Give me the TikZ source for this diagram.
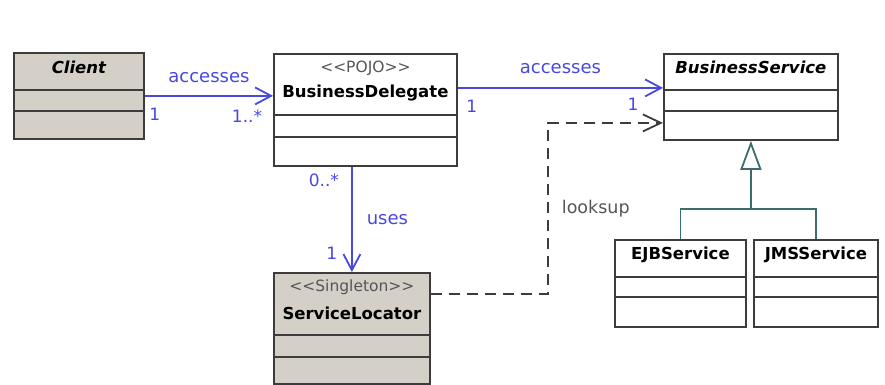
\documentclass[tikz,border=0pt]{standalone}
\usepackage{fontspec}
\usepackage{tikz}
\usetikzlibrary{arrows.meta,positioning}
\newfontfamily\umlfont{DejaVu Sans}

\definecolor{assocblue}{RGB}{72,72,224}
\definecolor{boxgrey}{RGB}{212,208,200}
\definecolor{boxline}{RGB}{60,60,60}
\definecolor{stereogrey}{RGB}{85,85,85}
\definecolor{inheritteal}{RGB}{60,108,108}

\begin{document}
\begin{tikzpicture}[x=1pt,y=-1pt,
    class/.style={draw=boxline,line width=1.8pt,anchor=north west,inner sep=0pt},
    greybox/.style={class,fill=boxgrey},
    whitebox/.style={class,fill=white},
    divider/.style={draw=boxline,line width=1.6pt},
    ctitle/.style={font=\umlfont\bfseries\fontsize{16.5}{18}\selectfont,inner sep=1pt},
    ctitleit/.style={inner sep=1pt,font=\umlfont\bfseries\itshape\fontsize{16.5}{18}\selectfont},
    stereo/.style={font=\umlfont\fontsize{15.5}{17}\selectfont,text=stereogrey,inner sep=1pt},
    assoc/.style={draw=assocblue,line width=1.8pt,-{Straight Barb[length=16pt,width=17pt,line width=1.8pt]}},
    depend/.style={draw=boxline,line width=1.8pt,dash pattern=on 11pt off 7pt,
                   -{Straight Barb[length=18pt,width=17pt,line width=1.8pt]}},
    inherit/.style={draw=inheritteal,line width=1.8pt},
    elabel/.style={font=\umlfont\fontsize{18}{20}\selectfont,text=assocblue,inner sep=1pt},
    mult/.style={font=\umlfont\fontsize{17}{19}\selectfont,text=assocblue,inner sep=1pt},
    lookl/.style={font=\umlfont\fontsize{17.5}{19}\selectfont,text=stereogrey,inner sep=1pt}]

  \useasboundingbox (0,0) rectangle (885,385);

  % classes
  \node[greybox,minimum width=130pt,minimum height=86pt] (client) at (13,52) {};
  \node[whitebox,minimum width=183pt,minimum height=112pt] (bd) at (273,53) {};
  \node[whitebox,minimum width=174pt,minimum height=86pt] (bs) at (663,53) {};
  \node[greybox,minimum width=156pt,minimum height=111pt] (sl) at (273,272) {};
  \node[whitebox,minimum width=131pt,minimum height=87pt] (ejb) at (614,239) {};
  \node[whitebox,minimum width=124pt,minimum height=87pt] (jms) at (753,239) {};

  \foreach \n/\w/\a/\b in {client/130/38/59, bd/183/62/84, bs/174/37/58,
                           sl/156/63/85, ejb/131/38/58, jms/124/38/58}{
    \draw[divider] (\n.north west) ++(0,\a) -- ++(\w,0);
    \draw[divider] (\n.north west) ++(0,\b) -- ++(\w,0);
  }

  % class names
  \node[ctitleit] (clientname) at ([yshift=-15pt]client.north) {Client};
  \node[stereo] (bdstereo) at ([yshift=-15pt]bd.north) {<<POJO>>};
  \node[ctitle] (bdname) at ([yshift=-40pt]bd.north) {BusinessDelegate};
  \node[ctitleit] (bsname) at ([yshift=-14pt]bs.north) {BusinessService};
  \node[stereo] (slstereo) at ([yshift=-15pt]sl.north) {<<Singleton>>};
  \node[ctitle] (slname) at ([yshift=-41pt]sl.north) {ServiceLocator};
  \node[ctitle] (ejbname) at ([yshift=-16pt]ejb.north) {EJBService};
  \node[ctitle] (jmsname) at ([yshift=-16pt]jms.north) {JMSService};

  % associations
  \coordinate (bdin) at (bd.west |- client.east);
  \draw[assoc] (client.east) -- node[elabel,above=11pt] (acc1) {accesses} (bdin);
  \node[mult] (m1) at ([shift={(10,18)}]client.east) {1};
  \node[mult] (m2) at ([shift={(-26,20)}]bdin) {1..*};

  \coordinate (bsin) at ([yshift=9pt]bs.west);
  \draw[assoc] (bd.east |- bsin) -- node[elabel,above=12pt] (acc2) {accesses} (bsin);
  \node[mult] (m3) at ([shift={(14,18)}]bd.east |- bsin) {1};
  \node[mult] (m4) at ([shift={(-30,16)}]bsin) {1};

  \draw[assoc] (sl.north |- bd.south) -- node[elabel,right=13pt] (uses) {uses} (sl.north);
  \node[mult] (m5) at ([shift={(-28,14)}]sl.north |- bd.south) {0..*};
  \node[mult] (m6) at ([shift={(-20,-19)}]sl.north) {1};

  % dependency
  \coordinate (bend) at (548,0);
  \coordinate (dstart) at ([yshift=34.5pt]sl.east);
  \coordinate (dend) at ([yshift=-26pt]bs.west);
  \draw[depend] (dstart) -- (bend |- dstart) -- node[lookl,right=12pt] (looks) {looksup} (bend |- dend) -- (dend);

  % generalization
  \coordinate (fork) at ([yshift=-68pt]bs.south);
  \draw[inherit] (ejb.north) |- (fork) -| (jms.north);
  \draw[inherit,-{Triangle[open,fill=white,length=29pt,width=21pt,line width=1.8pt]}] (fork) -- (bs.south);

\end{tikzpicture}
\end{document}
